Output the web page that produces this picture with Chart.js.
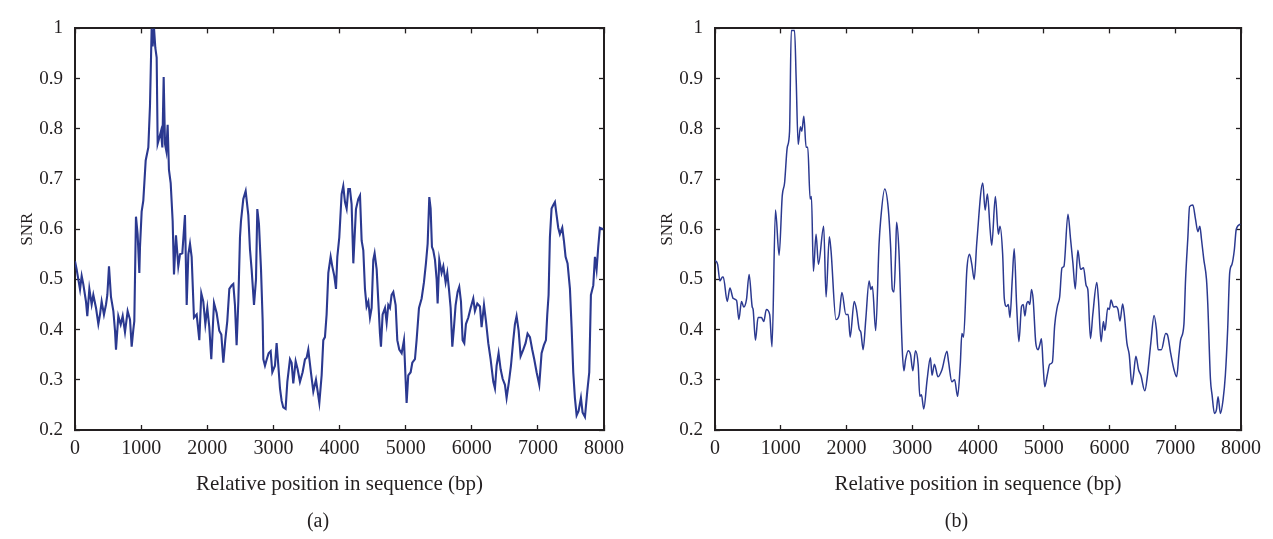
<!DOCTYPE html>
<html>
<head>
<meta charset="utf-8">
<script src="https://cdn.jsdelivr.net/npm/chart.js@4/dist/chart.umd.min.js"></script>
<style>
  html, body { margin:0; padding:0; background:#fff; overflow:hidden; }
  .panel { position:absolute; top:0; height:539px; }
  #panelA { left:0;     width:636px; }
  #panelB { left:640px; width:633px; }
</style>
</head>
<body>
<div class="panel" id="panelA"><canvas id="chartA"></canvas></div>
<div class="panel" id="panelB"><canvas id="chartB"></canvas></div>
<script>
/* ── Axis ticks ── */
const xTicks = [0, 1000, 2000, 3000, 4000, 5000, 6000, 7000, 8000];
const yTicks = [0.2, 0.3, 0.4, 0.5, 0.6, 0.7, 0.8, 0.9, 1];

/* ── (a) raw SNR along the sequence ── */
const aPos = [0,25,50,76,101,126,166,186,217,252,277,318,353,378,403,438,469,489,514,544,
  580,605,620,655,691,721,756,796,832,857,882,897,922,947,973,983,1008,1033,1069,1109,
  1134,1159,1174,1195,1215,1235,1250,1275,1300,1321,1341,1361,1381,1401,1421,1447,1477,1497,1527,1562,
  1588,1623,1663,1689,1714,1739,1764,1799,1840,1880,1910,1940,1971,2001,2031,2061,2102,2142,2182,2213,
  2243,2273,2303,2334,2369,2394,2419,2444,2470,2495,2510,2545,2581,2621,2646,2671,2707,2737,2757,2782,
  2813,2838,2848,2873,2898,2928,2959,2984,3024,3049,3075,3100,3125,3150,3185,3211,3251,3276,3301,3337,
  3367,3402,3442,3478,3503,3528,3568,3604,3644,3695,3730,3755,3780,3805,3831,3866,3891,3921,3947,3967,
  3997,4032,4057,4083,4108,4133,4158,4183,4209,4249,4284,4310,4335,4360,4385,4410,4436,4461,4486,4511,
  4531,4562,4587,4612,4627,4652,4688,4713,4738,4763,4788,4814,4849,4874,4904,4940,4975,4995,5015,5040,
  5076,5101,5141,5166,5202,5242,5277,5307,5333,5358,5378,5398,5418,5444,5469,5484,5509,5544,5570,5605,
  5630,5655,5681,5706,5731,5756,5786,5811,5837,5862,5887,5912,5948,5983,6023,6048,6084,6124,6149,6185,
  6215,6250,6285,6326,6351,6376,6406,6437,6467,6502,6527,6562,6593,6628,6653,6678,6709,6739,6779,6814,
  6844,6880,6915,6945,6981,7021,7056,7091,7122,7142,7162,7182,7207,7233,7258,7283,7308,7333,7369,7394,
  7419,7449,7485,7510,7535,7560,7586,7616,7651,7676,7712,7747,7777,7802,7838,7863,7888,7913,7938,7989];
const aSnr = [0.536,0.52,0.50,0.48,0.507,0.49,0.456,0.427,0.481,0.45,0.469,0.443,0.411,0.43,0.456,0.43,0.45,0.469,0.526,0.465,
  0.437,0.398,0.36,0.427,0.41,0.427,0.395,0.437,0.42,0.366,0.40,0.417,0.625,0.59,0.513,0.565,0.635,0.657,0.737,0.763,
  0.846,1.0,0.964,1.0,0.961,0.942,0.77,0.782,0.795,0.763,0.903,0.77,0.756,0.808,0.718,0.692,0.616,0.51,0.588,0.526,
  0.55,0.552,0.628,0.449,0.55,0.571,0.545,0.424,0.43,0.379,0.472,0.456,0.411,0.443,0.405,0.341,0.453,0.433,0.398,0.39,
  0.334,0.38,0.417,0.481,0.488,0.491,0.449,0.369,0.456,0.584,0.616,0.66,0.676,0.628,0.56,0.52,0.449,0.50,0.64,0.61,
  0.52,0.417,0.341,0.328,0.34,0.353,0.357,0.315,0.328,0.373,0.328,0.283,0.258,0.245,0.242,0.296,0.341,0.334,0.293,0.337,
  0.321,0.296,0.315,0.341,0.344,0.36,0.315,0.277,0.30,0.254,0.309,0.379,0.385,0.43,0.513,0.545,0.526,0.507,0.481,0.545,
  0.584,0.67,0.686,0.654,0.641,0.68,0.68,0.65,0.532,0.64,0.66,0.667,0.577,0.558,0.481,0.446,0.456,0.424,0.443,0.539,
  0.552,0.52,0.456,0.392,0.366,0.43,0.443,0.414,0.449,0.443,0.469,0.475,0.449,0.379,0.36,0.353,0.379,0.315,0.254,0.309,
  0.315,0.334,0.341,0.379,0.443,0.462,0.494,0.532,0.571,0.664,0.641,0.565,0.558,0.539,0.50,0.452,0.539,0.513,0.526,0.494,
  0.513,0.481,0.443,0.366,0.405,0.449,0.475,0.485,0.456,0.379,0.373,0.411,0.424,0.443,0.462,0.437,0.452,0.446,0.405,0.449,
  0.417,0.373,0.341,0.296,0.283,0.328,0.353,0.321,0.302,0.29,0.264,0.296,0.328,0.379,0.411,0.427,0.398,0.347,0.36,0.373,
  0.392,0.385,0.36,0.341,0.315,0.29,0.353,0.369,0.379,0.43,0.469,0.584,0.641,0.648,0.654,0.628,0.603,0.59,0.603,0.577,
  0.545,0.532,0.481,0.405,0.315,0.264,0.229,0.238,0.264,0.235,0.226,0.277,0.315,0.469,0.488,0.545,0.52,0.565,0.603,0.60];

/* ── (b) smoothed SNR ── */
const bPos = [0,40,75,115,126,186,227,277,328,363,403,438,479,519,565,580,615,655,706,741,
  781,832,867,920,975,1023,1058,1099,1134,1160,1210,1235,1265,1300,1320,1351,1386,1411,1447,1467,
  1497,1537,1573,1653,1689,1739,1764,1840,1890,1930,1991,2026,2056,2117,2152,2193,2218,2253,2293,2344,
  2369,2394,2444,2495,2520,2581,2636,2671,2697,2722,2747,2762,2797,2848,2873,2898,2939,2974,3009,3049,
  3090,3115,3140,3175,3226,3276,3301,3337,3392,3452,3528,3553,3603,3644,3690,3730,3755,3780,3831,3871,
  3906,3942,3982,4073,4108,4143,4184,4209,4264,4310,4335,4375,4400,4435,4461,4486,4521,4551,4587,4622,
  4662,4688,4713,4738,4763,4788,4814,4839,4879,4914,4940,4965,4990,5015,5055,5091,5131,5166,5207,5242,
  5277,5307,5368,5408,5444,5479,5519,5560,5605,5645,5670,5711,5746,5807,5832,5872,5907,5932,5973,5998,
  6023,6063,6099,6129,6159,6200,6225,6265,6300,6341,6366,6401,6442,6477,6537,6578,6628,6678,6714,6739,
  6789,6855,6880,6930,6981,7021,7056,7081,7132,7157,7192,7218,7268,7308,7344,7374,7399,7434,7475,7495,
  7535,7560,7596,7626,7651,7687,7727,7762,7797,7828,7863,7898,7928,7990];
const bSnr = [0.538,0.53,0.497,0.505,0.505,0.456,0.483,0.462,0.458,0.42,0.456,0.445,0.46,0.51,0.446,0.44,0.379,0.424,0.424,0.416,
  0.44,0.43,0.366,0.638,0.548,0.667,0.692,0.763,0.795,0.996,0.996,0.897,0.769,0.804,0.795,0.825,0.763,0.763,0.66,0.665,
  0.516,0.59,0.53,0.606,0.465,0.585,0.558,0.42,0.43,0.474,0.43,0.43,0.385,0.456,0.44,0.401,0.395,0.36,0.42,0.497,
  0.48,0.486,0.398,0.57,0.619,0.68,0.64,0.565,0.48,0.475,0.55,0.614,0.558,0.36,0.318,0.34,0.358,0.35,0.318,0.358,
  0.33,0.267,0.27,0.242,0.30,0.344,0.309,0.331,0.306,0.32,0.357,0.335,0.296,0.30,0.267,0.33,0.392,0.385,0.52,0.55,
  0.53,0.50,0.574,0.692,0.638,0.67,0.60,0.568,0.665,0.59,0.606,0.55,0.462,0.446,0.45,0.424,0.50,0.561,0.45,0.376,
  0.446,0.45,0.427,0.45,0.456,0.45,0.48,0.46,0.373,0.36,0.37,0.382,0.33,0.286,0.31,0.331,0.335,0.408,0.446,0.465,
  0.523,0.526,0.63,0.58,0.532,0.481,0.558,0.52,0.523,0.488,0.48,0.382,0.43,0.494,0.46,0.376,0.416,0.398,0.443,0.44,
  0.459,0.445,0.446,0.44,0.417,0.451,0.43,0.373,0.35,0.29,0.31,0.347,0.32,0.309,0.278,0.31,0.373,0.428,0.40,0.36,
  0.36,0.392,0.39,0.353,0.32,0.306,0.35,0.379,0.411,0.50,0.584,0.645,0.648,0.62,0.595,0.606,0.58,0.54,0.50,0.45,
  0.302,0.27,0.233,0.24,0.266,0.233,0.26,0.309,0.40,0.513,0.53,0.558,0.60,0.61];

/* ── Palette / defaults ── */
const C = { line: '#2b3990', ink: '#231f20' };
Chart.defaults.font.family = "'Liberation Serif', 'Times New Roman', serif";
Chart.defaults.font.size   = 20;
Chart.defaults.color       = C.ink;

const xRange = { min: xTicks[0], max: xTicks[xTicks.length - 1] };
const yRange = { min: yTicks[0], max: yTicks[yTicks.length - 1] };

// box frame: ticks point inwards (negative tickLength), no grid in the plot
const frameGrid   = { drawOnChartArea: false, tickLength: -5, color: C.ink, tickWidth: 1.3 };
const frameBorder = { color: C.ink, width: 2 };

function makePanel(canvasId, pos, snr, letter, rightW, smooth) {
  const points = pos.map((p, i) => ({ x: p, y: snr[i] }));
  return new Chart(document.getElementById(canvasId), {
    type: 'line',
    data: {
      datasets: [{
        data: points,
        borderColor: C.line, borderWidth: smooth ? 1.5 : 2.1,
        pointRadius: 0, fill: false,
        tension: smooth ? 0.4 : 0,
        cubicInterpolationMode: smooth ? 'monotone' : 'default',
      }],
    },
    options: {
      responsive: true, maintainAspectRatio: false, animation: false,
      layout: { padding: 0 },
      plugins: {
        legend: { display: false }, tooltip: { enabled: false },
        title: {
          display: true, text: letter, position: 'bottom',
          font: { size: 20, weight: 'normal' }, color: C.ink,
          padding: { top: 8.6, bottom: 5 },
        },
      },
      scales: {
        x: {
          type: 'linear', position: 'bottom', ...xRange,
          afterBuildTicks: s => { s.ticks = xTicks.map(v => ({ value: v })); },
          ticks: { padding: 12, maxRotation: 0, autoSkip: false, font: { size: 20 }, callback: v => String(v) },
          grid: frameGrid, border: frameBorder,
          title: { display: true, text: 'Relative position in sequence (bp)', font: { size: 21 }, padding: { bottom: 4.8 } },
          afterFit: s => { s.height = 71.4; },
        },
        x2: {
          type: 'linear', position: 'top', ...xRange,
          afterBuildTicks: s => { s.ticks = xTicks.map(v => ({ value: v })); },
          ticks: { callback: () => '' },
          grid: frameGrid, border: frameBorder,
          afterFit: s => { s.height = 13; },
        },
        y: {
          type: 'linear', position: 'left', ...yRange,
          afterBuildTicks: s => { s.ticks = yTicks.map(v => ({ value: v })); },
          ticks: { padding: 17, autoSkip: false, font: { size: 19 }, callback: v => v === 1 ? '1' : v.toFixed(1) },
          grid: frameGrid, border: frameBorder,
          title: { display: true, text: 'SNR', font: { size: 17 }, padding: { top: 17 } },
          afterFit: s => { s.width = 75; },
        },
        y2: {
          type: 'linear', position: 'right', ...yRange,
          afterBuildTicks: s => { s.ticks = yTicks.map(v => ({ value: v })); },
          ticks: { callback: () => '' },
          grid: frameGrid, border: frameBorder,
          afterFit: s => { s.width = rightW; },
        },
      },
    },
  });
}

makePanel('chartA', aPos, aSnr, '(a)', 32, false);
makePanel('chartB', bPos, bSnr, '(b)', 29, true);
</script>
</body>
</html>
